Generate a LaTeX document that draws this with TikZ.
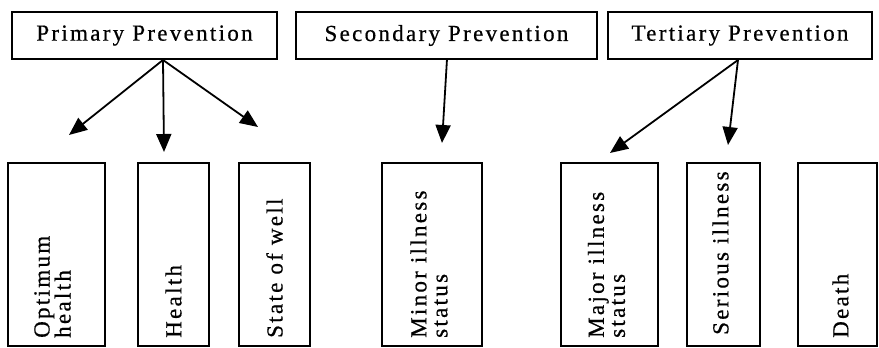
\documentclass[tikz,border=0pt]{standalone}
\usepackage{fontspec}
\setmainfont{Liberation Serif}[LetterSpace=10, FakeBold=0.6]
\usetikzlibrary{arrows.meta,calc}
\tikzset{
  phase/.style={draw, line width=1.8pt, minimum height=47pt, inner sep=0pt,
    font=\fontsize{23}{23}\selectfont},
  statebox/.style={draw, line width=2pt, rotate=90, minimum width=183pt,
    inner sep=0pt},
  statetext/.style={rotate=90, anchor=west, inner sep=0pt, align=left,
    font=\fontsize{23}{21}\selectfont},
  link/.style={line width=1.8pt, -{Triangle[length=18pt, width=15pt]}}
}
\begin{document}
\begin{tikzpicture}[x=1pt, y=-1pt]
\useasboundingbox (0,0) rectangle (879,348);

% prevention levels
\node[phase, minimum width=265pt] (prim) at (144.5,35.5) {Primary Prevention};
\node[phase, minimum width=301pt] (sec)  at (446.5,35.5) {Secondary Prevention};
\node[phase, minimum width=264pt] (tert) at (740,35.5)   {Tertiary Prevention};

% health state boxes
\node[statebox, minimum height=97pt]  (opt)     at (56.5,254.5)  {};
\node[statebox, minimum height=71pt]  (health)  at (173.5,254.5) {};
\node[statebox, minimum height=71pt]  (well)    at (274.5,254.5) {};
\node[statebox, minimum height=100pt] (minor)   at (432,254.5)   {};
\node[statebox, minimum height=97pt]  (major)   at (609.5,254.5) {};
\node[statebox, minimum height=73pt]  (serious) at (723.5,254.5) {};
\node[statebox, minimum height=79pt]  (death)   at (837.5,254.5) {};

% their labels, read from bottom to top
\node[statetext] (optL)     at ($(opt.west)+(-4,-9)$)    {Optimum\\health};
\node[statetext] (healthL)  at ($(health.west)+(0,-9)$)  {Health};
\node[statetext] (wellL)    at ($(well.west)+(0,-9)$)    {State of well};
\node[statetext] (minorL)   at ($(minor.west)+(-3,-9)$)  {Minor illness\\status};
\node[statetext] (majorL)   at ($(major.west)+(-3,-9)$)  {Major illness\\status};
\node[statetext] (seriousL) at ($(serious.west)+(-3,-12)$) {Serious illness};
\node[statetext] (deathL)   at ($(death.west)+(3,-9)$)   {Death};

% arrow origins and tips
\coordinate (po) at (163,60);
\coordinate (so) at (447,59);
\coordinate (to) at (738,60);
\coordinate (t1) at (69,135);
\coordinate (t2) at (164,152);
\coordinate (t3) at (258,127);
\coordinate (t4) at (442,143);
\coordinate (t5) at (610,153);
\coordinate (t6) at (728,145);

\draw[link] (po) -- (t1);
\draw[link] (po) -- (t2);
\draw[link] (po) -- (t3);
\draw[link] (so) -- (t4);
\draw[link] (to) -- (t5);
\draw[link] (to) -- (t6);
\end{tikzpicture}
\end{document}
